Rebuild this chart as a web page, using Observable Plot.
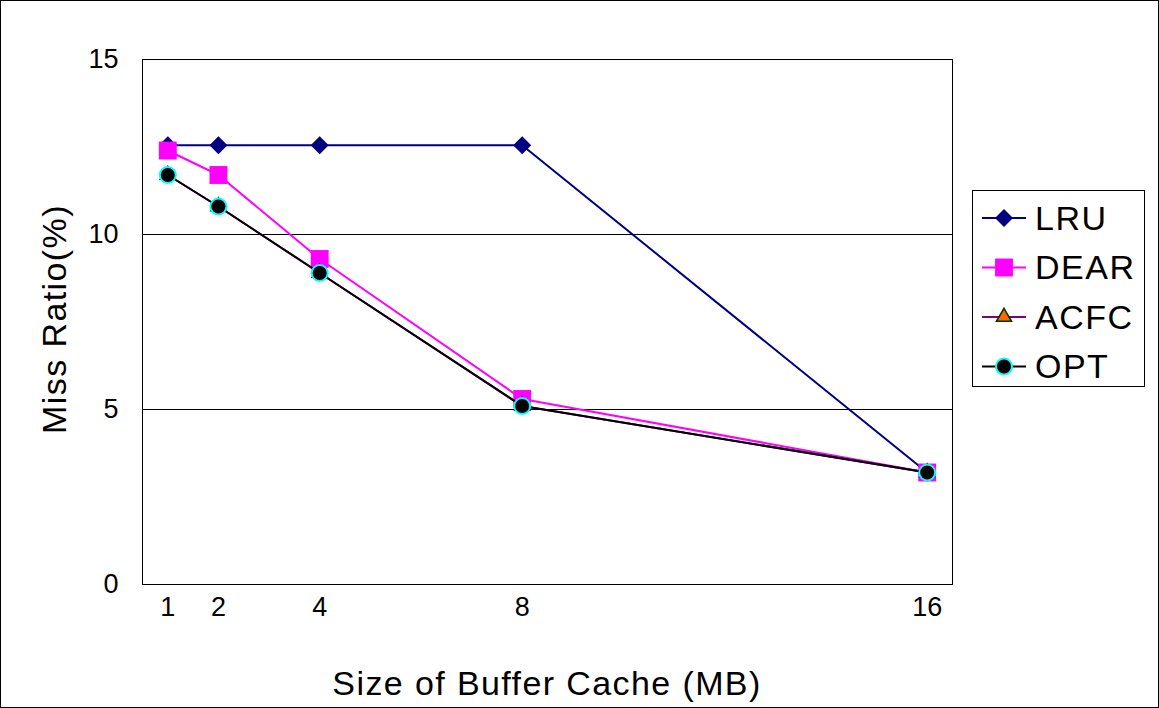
<!DOCTYPE html>
<html>
<head>
<meta charset="utf-8">
<script src="https://cdn.jsdelivr.net/npm/d3@7"></script>
<script src="https://cdn.jsdelivr.net/npm/@observablehq/plot@0.6"></script>
<style>
  html, body { margin: 0; padding: 0; background: #fff; }
  #wrap { position: relative; width: 1159px; height: 708px; overflow: hidden; background: #fff;
          font-family: "Liberation Sans", Arial, sans-serif; }
  #border { position: absolute; left: 0; top: 0; width: 1159px; height: 708px; box-sizing: border-box;
            border: 1px solid #000; pointer-events: none; }
  .title { position: absolute; font-size: 34px; letter-spacing: 1.4px; color: #000; white-space: nowrap; line-height: 1; }
  #xlabel { left: 0; width: 1094px; text-align: center; top: 666px; }
  #ylabel { left: 54px; top: 319px; transform: translate(-50%, -50%) rotate(-90deg); }
  #legend { position: absolute; left: 0; top: 0; }
</style>
</head>
<body>
<div id="wrap">
  <div id="chart"></div>
  <svg id="legend" width="1159" height="708"></svg>
  <div class="title" id="xlabel">Size of Buffer Cache (MB)</div>
  <div class="title" id="ylabel">Miss Ratio(%)</div>
  <div id="border"></div>
</div>
<script>
// ---- data ----
const sizes = [1, 2, 4, 8, 16];
const seriesNames = ["LRU", "DEAR", "ACFC", "OPT"];
const lru  = [12.55, 12.55, 12.55, 12.55, 3.2];
const dear = [12.4, 11.7, 9.3, 5.3, 3.2];
const acfc = [11.7, 10.8, 8.9, 5.1, 3.2];
const opt  = [11.7, 10.8, 8.9, 5.1, 3.2];
const yTicks = [0, 5, 10, 15];
const gridValues = [5, 10];

// ---- styles ----
const styles = {
  LRU:  {line: "#000080", symbol: "diamond2", r: 8.1, fill: "#000080", stroke: "none", sw: 0},
  DEAR: {line: "#FF00FF", symbol: "square",   r: 10.1, fill: "#FF00FF", stroke: "none", sw: 0},
  ACFC: {line: "#800080", symbol: "triangle", r: 5.6, fill: "#FF6600", stroke: "#003300", sw: 1.5},
  OPT:  {line: "#000000", symbol: "circle",   r: 8,   fill: "#000000", stroke: "#00FFFF", sw: 2}
};
const values = {LRU: lru, DEAR: dear, ACFC: acfc, OPT: opt};
const table = seriesNames.flatMap(name => sizes.map((s, i) => ({series: name, size: s, ratio: values[name][i]})));

const marks = [
  Plot.ruleY(gridValues, {stroke: "#000", strokeWidth: 1}),
  Plot.frame({stroke: "#000", strokeWidth: 1}),
  Plot.axisY({ticks: yTicks, tickSize: 0, tickPadding: 24, fontSize: 27, label: null, tickFormat: d => String(d)}),
  Plot.axisX({ticks: sizes, tickSize: 0, tickPadding: 12, fontSize: 27, label: null, tickFormat: d => String(d)})
];
for (const name of seriesNames) {
  const st = styles[name];
  const data = table.filter(d => d.series === name);
  marks.push(Plot.line(data, {x: "size", y: "ratio", stroke: st.line, strokeWidth: 2}));
  marks.push(Plot.dot(data, {x: "size", y: "ratio", symbol: () => st.symbol, r: st.r, fill: st.fill,
    stroke: st.stroke, strokeWidth: st.sw}));
}

const chart = Plot.plot({
  width: 1159,
  height: 708,
  marginLeft: 142,
  marginRight: 207,
  marginTop: 59,
  marginBottom: 124,
  style: {fontFamily: "'Liberation Sans', Arial, sans-serif", fontSize: "27px", color: "#000", background: "#fff"},
  x: {type: "linear", domain: [0.5, 16.5]},
  y: {domain: [0, 15]},
  symbol: {type: "identity"},
  marks
});
document.getElementById("chart").appendChild(chart);

// ---- legend ----
const lg = d3.select("#legend");
lg.append("rect").attr("x", 972.5).attr("y", 190.5).attr("width", 172).attr("height", 196)
  .attr("fill", "#fff").attr("stroke", "#000").attr("stroke-width", 1);
const symMap = {diamond2: d3.symbolDiamond2, square: d3.symbolSquare, triangle: d3.symbolTriangle, circle: d3.symbolCircle};
seriesNames.forEach((name, i) => {
  const st = styles[name];
  const y = 218 + i * 49.5;
  lg.append("line").attr("x1", 982).attr("x2", 1026).attr("y1", y).attr("y2", y)
    .attr("stroke", st.line).attr("stroke-width", 2);
  lg.append("path").attr("transform", `translate(1004,${y})`)
    .attr("d", d3.symbol(symMap[st.symbol], st.r * st.r * Math.PI)())
    .attr("fill", st.fill).attr("stroke", st.stroke).attr("stroke-width", st.sw);
  lg.append("text").attr("x", 1035).attr("y", y + 11.5).text(name)
    .attr("font-size", 34).attr("letter-spacing", 1.5)
    .attr("font-family", "'Liberation Sans', Arial, sans-serif").attr("fill", "#000");
});
</script>
</body>
</html>
